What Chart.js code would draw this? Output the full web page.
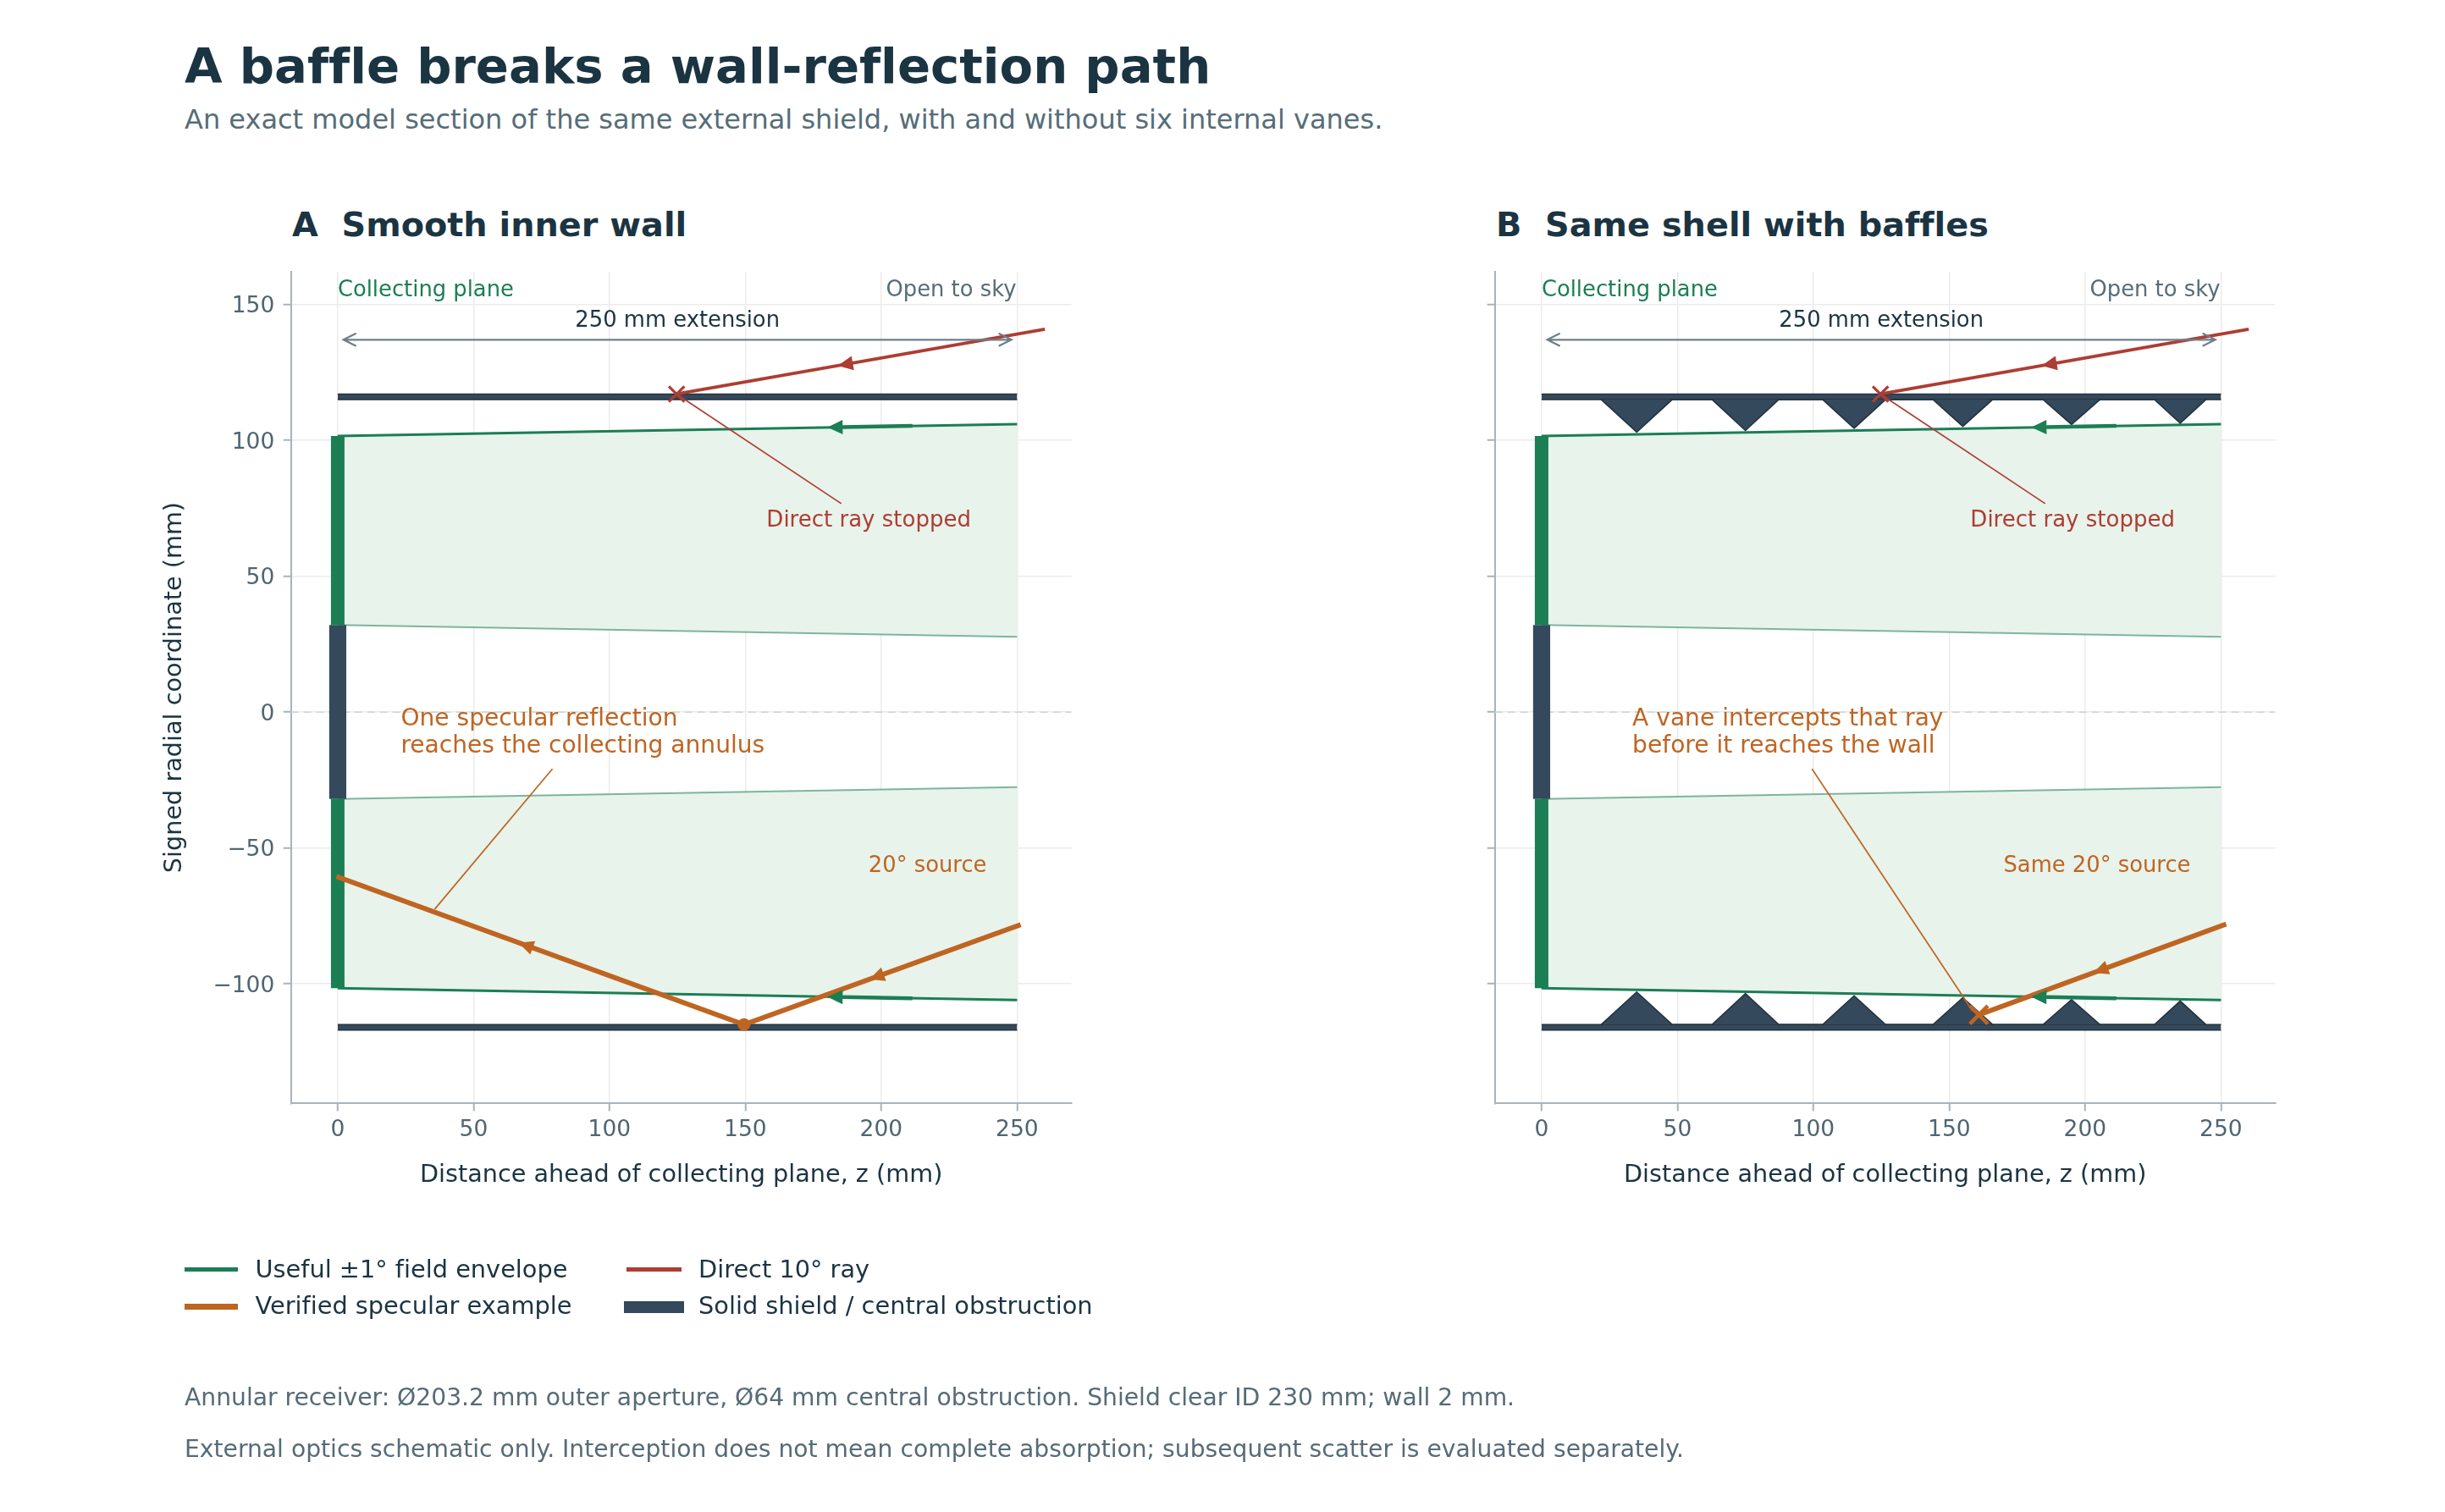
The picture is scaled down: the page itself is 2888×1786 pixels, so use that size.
<!DOCTYPE html>
<html>
<head>
<meta charset="utf-8">
<title>A baffle breaks a wall-reflection path</title>
<script src="https://cdn.jsdelivr.net/npm/chart.js@4.4.1/dist/chart.umd.min.js"></script>
<style>
  html, body { margin: 0; padding: 0; background: #ffffff; }
  body {
    position: relative; width: 2888px; height: 1786px; overflow: hidden;
    font-family: 'DejaVu Sans', sans-serif; font-variant-ligatures: none;
  }
  .txt { position: absolute; line-height: 1; white-space: pre; }
  .title { left: 218px; top: 49.5px; font-size: 57.7px; font-weight: bold; color: #1b3442; }
  .subtitle { left: 218px; top: 124.6px; font-size: 32px; color: #566d79; }
  .panel-title { top: 245.6px; font-size: 39.8px; font-weight: bold; color: #1b3442; }
  .legend-text { font-size: 28.8px; color: #1b3442; }
  .footer { left: 218px; font-size: 28.2px; color: #566b77; }
  .swatch { position: absolute; }
  canvas { position: absolute; top: 0; }
</style>
</head>
<body>

<div class="txt title">A baffle breaks a wall-reflection path</div>
<div class="txt subtitle">An exact model section of the same external shield, with and without six internal vanes.</div>

<div class="txt panel-title" style="left:345px">A  Smooth inner wall</div>
<div class="txt panel-title" style="left:1767px">B  Same shell with baffles</div>

<canvas id="panelA" width="1422" height="1786" style="left:0px"></canvas>
<canvas id="panelB" width="1422" height="1786" style="left:1422px"></canvas>

<!-- legend -->
<div class="swatch" style="left:218px;top:1496.5px;width:63px;height:5.5px;background:#1b7e55"></div>
<div class="txt legend-text" style="left:301.5px;top:1484.9px">Useful ±1° field envelope</div>
<div class="swatch" style="left:740px;top:1496.5px;width:65px;height:5.5px;background:#ae3d33"></div>
<div class="txt legend-text" style="left:825px;top:1484.9px">Direct 10° ray</div>
<div class="swatch" style="left:218px;top:1540px;width:63px;height:6.5px;background:#bf6522"></div>
<div class="txt legend-text" style="left:301.5px;top:1528.3px">Verified specular example</div>
<div class="swatch" style="left:737px;top:1536.7px;width:71px;height:14px;background:#34495b"></div>
<div class="txt legend-text" style="left:825px;top:1528.3px">Solid shield / central obstruction</div>

<div class="txt footer" style="top:1637.1px">Annular receiver: Ø203.2 mm outer aperture, Ø64 mm central obstruction. Shield clear ID 230 mm; wall 2 mm.</div>
<div class="txt footer" style="top:1698.4px">External optics schematic only. Interception does not mean complete absorption; subsequent scatter is evaluated separately.</div>

<script>
// axis ranges (mm) and tick labels
const Z_RANGE = [-17.2, 270];
const R_RANGE = [-144, 162.1];
const Z_TICKS = [0, 50, 100, 150, 200, 250];
const R_TICKS = [-100, -50, 0, 50, 100, 150];

// shield and receiver geometry (mm)
const SHIELD_Z = [0, 250];
const SHIELD_INNER_R = 115;
const SHIELD_OUTER_R = 117;
const OBSTRUCTION_Z = [-3.2, 3.2];
const OBSTRUCTION_R = 32;
const APERTURE_R = 101.6;

// useful +/-1 deg field envelope, radius at each z
const ENVELOPE_Z = [0, 250];
const ENVELOPE_OUTER = [101.6, 105.96];
const ENVELOPE_INNER = [32, 27.64];

// baffle vanes of panel B: centre z, half base width, tip radius
const VANE_Z = [35, 75, 115, 155, 195, 235];
const VANE_HALF = [13.1, 12.3, 11.6, 11.0, 10.5, 9.5];
const VANE_TIP = [103.0, 103.6, 104.4, 105.1, 105.8, 106.3];

// rays, listed from the sky end toward the collecting plane
const DIRECT_RAY_Z = [260.2, 124.7];
const DIRECT_RAY_R = [140.9, 117];
const SPECULAR_RAY_Z = [251.3, 149.5, -0.5];
const SPECULAR_RAY_R = [-78.2, -115, -60.5];
const BLOCKED_RAY_Z = [251.9, 160.9];
const BLOCKED_RAY_R = [-78, -111.4];

// direction arrows along the paths: tail z, tail r, tip z, tip r
const ENVELOPE_ARROW = [211.5, 105.29, 180.2, 104.75];
const DIRECT_ARROW = [200, 130.28, 184, 127.46];
const SPECULAR_IN_ARROW = [210, -93.13, 195.6, -98.33];
const SPECULAR_OUT_ARROW = [80, -89.75, 66.5, -84.84];
const BLOCKED_ARROW = [215, -91.5, 203, -95.95];

// colours
const NAVY = '#1b3442';
const SLATE = '#566d79';
const GREEN = '#1b7e55';
const GREEN_SOFT = 'rgba(27,126,85,0.55)';
const ENVELOPE_FILL = '#e8f3eb';
const RED = '#ae3d33';
const ORANGE = '#bf6522';
const SHIELD = '#34495b';
const SHIELD_EDGE = '#24333f';
const ARROW_GRAY = '#6d808a';
const GRID = '#ececec';
const SPINE = '#a9b3b9';
const TICK_TEXT = '#4f6572';
const ZERO_LINE = '#cfd7dc';

// where the plotting box sits inside each panel canvas
const CANVAS_W = 1422;
const CANVAS_H = 1786;
const AREA = {left: 343.7, top: 320.7, right: 1265.6, bottom: 1303.4};

Chart.defaults.font.family = "'DejaVu Sans', sans-serif";

//******************************************************************************
//  small helpers turning the named arrays into {x, y} points
//******************************************************************************
function pts(zs, rs) {
  return zs.map((z, i) => ({x: z, y: rs[i]}));
}
function flat(zs, r) {
  return zs.map(z => ({x: z, y: r}));
}
function neg(arr) {
  return arr.map(v => -v);
}
function vanePoints(sign) {
  let out = [];
  VANE_Z.forEach((z, i) => {
    out.push({x: z - VANE_HALF[i], y: sign * SHIELD_INNER_R});
    out.push({x: z, y: sign * VANE_TIP[i]});
    out.push({x: z + VANE_HALF[i], y: sign * SHIELD_INNER_R});
  });
  return out;
}
function line(data, opts) {
  return Object.assign({data: data, borderWidth: 2, pointRadius: 0, fill: false}, opts);
}
function marker(z, r, opts) {
  return Object.assign({data: [{x: z, y: r}], showLine: false, borderWidth: 0}, opts);
}

//******************************************************************************
//  datasets shared by both panels; order: lower number is drawn on top
//******************************************************************************
function baseDatasets() {
  return [
    line(flat(Z_RANGE, 0), {borderColor: ZERO_LINE, borderWidth: 1.6, borderDash: [9, 6], order: 100}),

    line(pts(ENVELOPE_Z, ENVELOPE_OUTER), {borderColor: GREEN, borderWidth: 3, fill: '+1', backgroundColor: ENVELOPE_FILL, order: 90}),
    line(pts(ENVELOPE_Z, ENVELOPE_INNER), {borderColor: GREEN_SOFT, borderWidth: 2, order: 89}),
    line(pts(ENVELOPE_Z, neg(ENVELOPE_OUTER)), {borderColor: GREEN, borderWidth: 3, fill: '+1', backgroundColor: ENVELOPE_FILL, order: 90}),
    line(pts(ENVELOPE_Z, neg(ENVELOPE_INNER)), {borderColor: GREEN_SOFT, borderWidth: 2, order: 89}),

    line(flat(SHIELD_Z, SHIELD_OUTER_R), {borderColor: SHIELD_EDGE, borderWidth: 1.6, fill: '+1', backgroundColor: SHIELD, order: 80}),
    line(flat(SHIELD_Z, SHIELD_INNER_R), {borderColor: SHIELD_EDGE, borderWidth: 1.6, order: 79}),
    line(flat(SHIELD_Z, -SHIELD_OUTER_R), {borderColor: SHIELD_EDGE, borderWidth: 1.6, fill: '+1', backgroundColor: SHIELD, order: 80}),
    line(flat(SHIELD_Z, -SHIELD_INNER_R), {borderColor: SHIELD_EDGE, borderWidth: 1.6, order: 79}),

    line(flat(OBSTRUCTION_Z, OBSTRUCTION_R), {borderColor: 'rgba(0,0,0,0)', borderWidth: 0.01, fill: {value: -OBSTRUCTION_R}, backgroundColor: SHIELD, order: 70}),

    line(pts([0, 0], [OBSTRUCTION_R, APERTURE_R]), {borderColor: GREEN, borderWidth: 16, order: 60}),
    line(pts([0, 0], [-OBSTRUCTION_R, -APERTURE_R]), {borderColor: GREEN, borderWidth: 16, order: 60}),

    line(pts(DIRECT_RAY_Z, DIRECT_RAY_R), {borderColor: RED, borderWidth: 3.8, borderCapStyle: 'butt', order: 20}),
    marker(DIRECT_RAY_Z[1], DIRECT_RAY_R[1], {pointStyle: 'crossRot', pointRadius: 13, pointBorderWidth: 3.2, pointBorderColor: RED, order: 10})
  ];
}

function smoothDatasets() {
  return baseDatasets().concat([
    line(pts(SPECULAR_RAY_Z, SPECULAR_RAY_R), {borderColor: ORANGE, borderWidth: 5.8, borderJoinStyle: 'round', order: 15}),
    marker(SPECULAR_RAY_Z[1], SPECULAR_RAY_R[1], {pointStyle: 'circle', pointRadius: 7.5, pointBackgroundColor: ORANGE, pointBorderWidth: 0, order: 9})
  ]);
}

function baffledDatasets() {
  return baseDatasets().concat([
    line(vanePoints(1), {borderColor: SHIELD_EDGE, borderWidth: 1.6, fill: {value: SHIELD_INNER_R}, backgroundColor: SHIELD, order: 75}),
    line(vanePoints(-1), {borderColor: SHIELD_EDGE, borderWidth: 1.6, fill: {value: -SHIELD_INNER_R}, backgroundColor: SHIELD, order: 75}),
    line(pts(BLOCKED_RAY_Z, BLOCKED_RAY_R), {borderColor: ORANGE, borderWidth: 5.8, order: 15}),
    marker(BLOCKED_RAY_Z[1], BLOCKED_RAY_R[1], {pointStyle: 'crossRot', pointRadius: 15, pointBorderWidth: 4.5, pointBorderColor: ORANGE, order: 9})
  ]);
}

//******************************************************************************
//  annotation layout for each panel (text anchors are in axis units)
//******************************************************************************
const TOP_NOTES = [
  {text: 'Collecting plane', z: 0, r: 153, align: 'left', color: GREEN, size: 25.8},
  {text: 'Open to sky', z: 249.7, r: 153, align: 'right', color: SLATE, size: 25.8},
  {text: '250 mm extension', z: 125, r: 141.9, align: 'center', color: NAVY, size: 25.8},
  {text: 'Direct ray stopped', z: 195.4, r: 68.1, align: 'center', color: RED, size: 26}
];

const PANEL_A_NOTES = {
  texts: TOP_NOTES.concat([
    {text: 'One specular reflection', z: 23.2, r: -4.8, align: 'left', color: ORANGE, size: 28.1},
    {text: 'reaches the collecting annulus', z: 23.2, r: -14.8, align: 'left', color: ORANGE, size: 28.1},
    {text: '20° source', z: 238.8, r: -58.7, align: 'right', color: ORANGE, size: 25.8}
  ]),
  leaders: [
    {from: [185.3, 76.7], to: [124.7, 117], color: RED},
    {from: [79, -20.9], to: [35.7, -72.5], color: ORANGE}
  ],
  arrows: [
    {path: ENVELOPE_ARROW, color: GREEN, shaft: 4.5},
    {path: [ENVELOPE_ARROW[0], -ENVELOPE_ARROW[1], ENVELOPE_ARROW[2], -ENVELOPE_ARROW[3]], color: GREEN, shaft: 4.5},
    {path: DIRECT_ARROW, color: RED, shaft: 0},
    {path: SPECULAR_IN_ARROW, color: ORANGE, shaft: 0},
    {path: SPECULAR_OUT_ARROW, color: ORANGE, shaft: 0}
  ],
  extension: {z: [2.1, 247.9], r: 137}
};

const PANEL_B_NOTES = {
  texts: TOP_NOTES.concat([
    {text: 'A vane intercepts that ray', z: 33.4, r: -4.8, align: 'left', color: ORANGE, size: 28.1},
    {text: 'before it reaches the wall', z: 33.4, r: -14.8, align: 'left', color: ORANGE, size: 28.1},
    {text: 'Same 20° source', z: 238.8, r: -58.7, align: 'right', color: ORANGE, size: 25.8}
  ]),
  leaders: [
    {from: [185.3, 76.7], to: [124.7, 117], color: RED},
    {from: [99.5, -20.9], to: [158.6, -110], color: ORANGE}
  ],
  arrows: [
    {path: ENVELOPE_ARROW, color: GREEN, shaft: 4.5},
    {path: [ENVELOPE_ARROW[0], -ENVELOPE_ARROW[1], ENVELOPE_ARROW[2], -ENVELOPE_ARROW[3]], color: GREEN, shaft: 4.5},
    {path: DIRECT_ARROW, color: RED, shaft: 0},
    {path: BLOCKED_ARROW, color: ORANGE, shaft: 0}
  ],
  extension: {z: [2.1, 247.9], r: 137}
};

//******************************************************************************
//  overlay plugin: arrowheads, leader lines and in-plot labels
//******************************************************************************
function overlayPlugin(notes) {
  return {
    id: 'schematicNotes',
    afterDatasetsDraw(chart) {
      const ctx = chart.ctx;
      const sx = chart.scales.x;
      const sy = chart.scales.y;
      const px = z => sx.getPixelForValue(z);
      const py = r => sy.getPixelForValue(r);

      ctx.save();
      ctx.lineCap = 'butt';

      // leader lines
      notes.leaders.forEach(l => {
        ctx.strokeStyle = l.color;
        ctx.lineWidth = 1.7;
        ctx.beginPath();
        ctx.moveTo(px(l.from[0]), py(l.from[1]));
        ctx.lineTo(px(l.to[0]), py(l.to[1]));
        ctx.stroke();
      });

      // filled arrowheads along the paths
      notes.arrows.forEach(a => {
        const x0 = px(a.path[0]), y0 = py(a.path[1]);
        const x1 = px(a.path[2]), y1 = py(a.path[3]);
        const ang = Math.atan2(y1 - y0, x1 - x0);
        const len = 18, half = 8.5;
        const bx = x1 - len * Math.cos(ang), by = y1 - len * Math.sin(ang);
        if (a.shaft) {
          ctx.strokeStyle = a.color;
          ctx.lineWidth = a.shaft;
          ctx.beginPath();
          ctx.moveTo(x0, y0);
          ctx.lineTo(bx, by);
          ctx.stroke();
        }
        ctx.fillStyle = a.color;
        ctx.beginPath();
        ctx.moveTo(x1, y1);
        ctx.lineTo(bx + half * Math.sin(ang), by - half * Math.cos(ang));
        ctx.lineTo(bx - half * Math.sin(ang), by + half * Math.cos(ang));
        ctx.closePath();
        ctx.fill();
      });

      // 250 mm extension, open heads at both ends
      const ex = notes.extension;
      const xa = px(ex.z[0]), xb = px(ex.z[1]), ye = py(ex.r);
      ctx.strokeStyle = ARROW_GRAY;
      ctx.lineWidth = 2.2;
      ctx.lineJoin = 'miter';
      ctx.beginPath();
      ctx.moveTo(xa, ye);
      ctx.lineTo(xb, ye);
      ctx.moveTo(xa + 15, ye - 7.5);
      ctx.lineTo(xa, ye);
      ctx.lineTo(xa + 15, ye + 7.5);
      ctx.moveTo(xb - 15, ye - 7.5);
      ctx.lineTo(xb, ye);
      ctx.lineTo(xb - 15, ye + 7.5);
      ctx.stroke();

      // labels
      ctx.textBaseline = 'alphabetic';
      notes.texts.forEach(t => {
        ctx.font = t.size + "px 'DejaVu Sans', sans-serif";
        ctx.fillStyle = t.color;
        ctx.textAlign = t.align;
        ctx.fillText(t.text, px(t.z), py(t.r));
      });

      ctx.restore();
    }
  };
}

//******************************************************************************
//  build one panel chart; both panels share the same plotting box
//******************************************************************************
function tickText(v) {
  return v < 0 ? '\u2212' + Math.abs(v) : String(v);
}

function makePanel(canvasId, datasets, notes, showYLabels) {
  return new Chart(document.getElementById(canvasId), {
    type: 'line',
    data: {datasets: datasets},
    options: {
      responsive: false,
      animation: false,
      events: [],
      layout: {padding: {left: 0, top: AREA.top, right: CANVAS_W - AREA.right, bottom: 0}},
      elements: {point: {radius: 0}, line: {tension: 0}},
      plugins: {legend: {display: false}, tooltip: {enabled: false}},
      scales: {
        x: {
          type: 'linear',
          bounds: 'data',
          min: Z_RANGE[0],
          max: Z_RANGE[1],
          afterFit: s => { s.height = CANVAS_H - AREA.bottom; },
          afterBuildTicks: s => { s.ticks = Z_TICKS.map(v => ({value: v})); },
          grid: {color: GRID, lineWidth: 1.5, tickLength: 9, tickColor: SPINE, tickWidth: 2},
          border: {color: SPINE, width: 2},
          ticks: {color: TICK_TEXT, font: {size: 26.5}, padding: 7.2, maxRotation: 0, autoSkip: false, callback: tickText},
          title: {
            display: true,
            text: 'Distance ahead of collecting plane, z (mm)',
            color: NAVY,
            font: {size: 28.7},
            padding: {top: 0, bottom: 380.3}
          }
        },
        y: {
          type: 'linear',
          bounds: 'data',
          min: R_RANGE[0],
          max: R_RANGE[1],
          afterFit: s => { s.width = AREA.left; },
          afterBuildTicks: s => { s.ticks = R_TICKS.map(v => ({value: v})); },
          grid: {color: GRID, lineWidth: 1.5, tickLength: 9, tickColor: SPINE, tickWidth: 2},
          border: {color: SPINE, width: 2},
          ticks: {
            color: TICK_TEXT,
            font: {size: 26.5},
            padding: 10.4,
            labelOffset: 2.8,
            autoSkip: false,
            callback: v => showYLabels ? tickText(v) : ''
          },
          title: {
            display: showYLabels,
            text: 'Signed radial coordinate (mm)',
            color: NAVY,
            font: {size: 28.7},
            padding: {top: 189.3, bottom: 0}
          }
        }
      }
    },
    plugins: [overlayPlugin(notes)]
  });
}

makePanel('panelA', smoothDatasets(), PANEL_A_NOTES, true);
makePanel('panelB', baffledDatasets(), PANEL_B_NOTES, false);
</script>
</body>
</html>
